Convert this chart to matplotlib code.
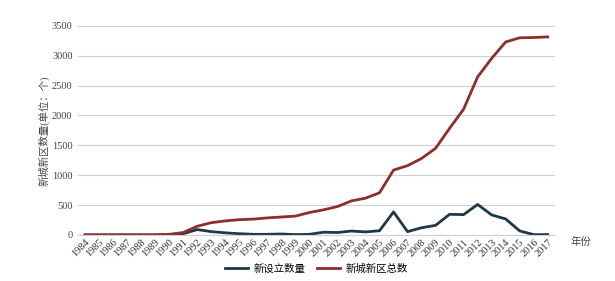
import matplotlib.pyplot as plt

plt.rcParams['font.family'] = ['Liberation Serif', 'Noto Sans CJK SC']

# 数据
anos = [str(a) for a in range(1984, 2018)]
novos = [0, 0, 0, 0, 0, 0, 5, 20, 90, 55, 35, 20, 10, 10, 15, 5,
         10, 45, 40, 65, 50, 70, 385, 55, 120, 160, 345, 340, 510, 335,
         267, 67, 5, 5]
total = [0, 0, 0, 0, 0, 0, 10, 40, 145, 205, 235, 255, 265, 285, 300, 315,
         375, 420, 475, 570, 615, 705, 1085, 1160, 1280, 1450, 1785, 2105,
         2645, 2955, 3230, 3300, 3305, 3315]

fig = plt.figure(figsize=(6.15, 2.81), dpi=100)
ax = fig.add_axes([0.127, 0.164, 0.775, 0.744])

x = range(len(anos))
ax.plot(x, novos, color='#1f3849', linewidth=2.0, label='新设立数量')
ax.plot(x, total, color='#8b2f2c', linewidth=2.0, label='新城新区总数')

ax.set_xlim(-0.5, len(anos) - 0.5)
ax.set_ylim(0, 3500)
ax.set_yticks(range(0, 3501, 500))
ax.grid(axis='y', color='#d0d0d0', linewidth=0.8)
ax.set_axisbelow(True)
for s in ['top', 'right', 'left']:
    ax.spines[s].set_visible(False)
ax.spines['bottom'].set_color('#d0d0d0')
ax.tick_params(axis='y', length=0, labelsize=7.5, labelcolor='#444444', pad=4)
ax.tick_params(axis='x', length=0, labelsize=7.5, labelcolor='#333333', pad=2)
ax.set_xticks(list(x))
ax.set_xticklabels(anos, rotation=45, ha='right', rotation_mode='anchor')

ax.set_ylabel('新城新区数量(单位：个)', fontsize=7.5, color='#444444', labelpad=2)
fig.text(0.928, 0.138, '年份', fontsize=7.5, color='#444444', ha='left', va='center')

ax.legend(loc='center', bbox_to_anchor=(0.5, -0.16), ncol=2, frameon=False,
          fontsize=7.5, handlelength=2.2, columnspacing=1.2, handletextpad=0.5)

plt.savefig('out.png', dpi=100)
